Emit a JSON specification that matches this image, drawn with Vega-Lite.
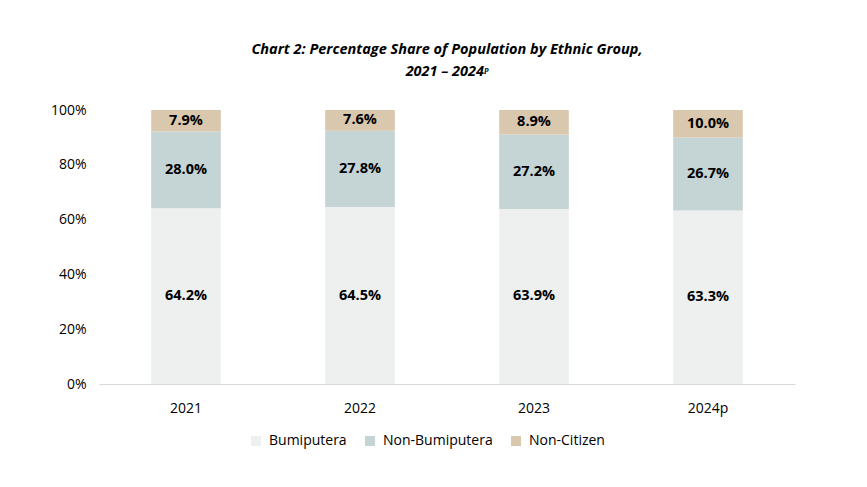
{
  "$schema": "https://vega.github.io/schema/vega-lite/v6.json",
  "width": 696,
  "height": 274,
  "padding": {"left": 50, "top": 41, "right": 10, "bottom": 10},
  "background": "white",
  "config": {"view": {"stroke": null}},
  "title": {
    "text": ["Chart 2: Percentage Share of Population by Ethnic Group,", "2021 – 2024ᵖ"],
    "font": "Open Sans",
    "fontSize": 14.5,
    "fontWeight": "bold",
    "fontStyle": "italic",
    "color": "#000000",
    "anchor": "middle",
    "lineHeight": 22,
    "offset": 24
  },
  "data": {
    "values": [
      {"year": "2021", "group": "Bumiputera", "order": 1, "value": 0.642},
      {"year": "2021", "group": "Non-Bumiputera", "order": 2, "value": 0.280},
      {"year": "2021", "group": "Non-Citizen", "order": 3, "value": 0.079},
      {"year": "2022", "group": "Bumiputera", "order": 1, "value": 0.645},
      {"year": "2022", "group": "Non-Bumiputera", "order": 2, "value": 0.278},
      {"year": "2022", "group": "Non-Citizen", "order": 3, "value": 0.076},
      {"year": "2023", "group": "Bumiputera", "order": 1, "value": 0.639},
      {"year": "2023", "group": "Non-Bumiputera", "order": 2, "value": 0.272},
      {"year": "2023", "group": "Non-Citizen", "order": 3, "value": 0.089},
      {"year": "2024p", "group": "Bumiputera", "order": 1, "value": 0.633},
      {"year": "2024p", "group": "Non-Bumiputera", "order": 2, "value": 0.267},
      {"year": "2024p", "group": "Non-Citizen", "order": 3, "value": 0.100}
    ]
  },
  "transform": [
    {"stack": "value", "groupby": ["year"], "sort": [{"field": "order", "order": "ascending"}], "offset": "normalize", "as": ["y0", "y1"]},
    {"calculate": "(datum.y0 + datum.y1) / 2", "as": "ymid"}
  ],
  "encoding": {
    "x": {
      "field": "year",
      "type": "nominal",
      "title": null,
      "scale": {"paddingInner": 0.6, "paddingOuter": 0.3},
      "axis": {
        "labelAngle": 0,
        "labelFont": "Open Sans",
        "labelFontSize": 14,
        "labelColor": "#000000",
        "labelPadding": 17,
        "ticks": false,
        "domainColor": "#d9d9d9",
        "domainWidth": 1
      }
    }
  },
  "layer": [
    {
      "mark": {"type": "bar"},
      "encoding": {
        "y": {
          "field": "y0",
          "type": "quantitative",
          "title": null,
          "scale": {"domain": [0, 1], "nice": false},
          "axis": {
            "format": ".0%",
            "values": [0, 0.2, 0.4, 0.6, 0.8, 1.0],
            "labelOverlap": false,
            "grid": false,
            "domain": false,
            "ticks": false,
            "labelFont": "Open Sans",
            "labelFontSize": 14,
            "labelColor": "#000000",
            "labelPadding": 13
          }
        },
        "y2": {"field": "y1"},
        "color": {
          "field": "group",
          "type": "nominal",
          "sort": ["Bumiputera", "Non-Bumiputera", "Non-Citizen"],
          "scale": {
            "domain": ["Bumiputera", "Non-Bumiputera", "Non-Citizen"],
            "range": ["#edf0ee", "#c5d4d4", "#d9c8ae"]
          },
          "legend": {
            "orient": "none",
            "legendX": 150,
            "legendY": 324,
            "direction": "horizontal",
            "title": null,
            "symbolType": "square",
            "symbolSize": 100,
            "symbolStrokeWidth": 0,
            "labelFont": "Open Sans",
            "labelFontSize": 14,
            "labelColor": "#000000",
            "labelOffset": 6,
            "columnPadding": 16
          }
        }
      }
    },
    {
      "mark": {"type": "text", "font": "Open Sans", "fontSize": 14.5, "fontWeight": "bold", "color": "#000000", "baseline": "middle"},
      "encoding": {
        "y": {"field": "ymid", "type": "quantitative"},
        "text": {"field": "value", "type": "quantitative", "format": ".1%"}
      }
    }
  ]
}
